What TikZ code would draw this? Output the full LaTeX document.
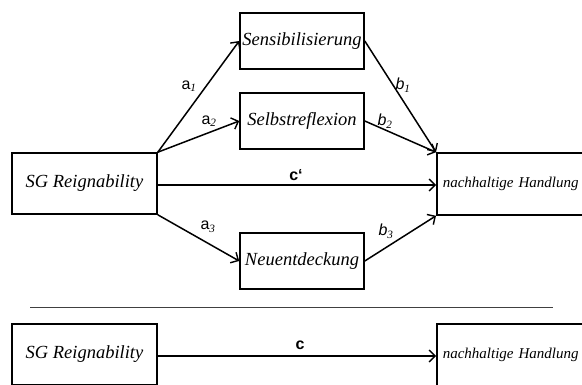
\documentclass[tikz,border=0pt]{standalone}
\usepackage{fontspec}
\setmainfont{Liberation Serif}
\setsansfont{Liberation Sans}
\usetikzlibrary{arrows.meta}
\tikzset{
  box/.style={draw, line width=1.6pt, inner sep=0pt, font=\itshape\fontsize{18.5}{22}\selectfont},
  outbox/.style={box, minimum height=62pt, text width=164pt, align=left, inner xsep=6pt, anchor=west,
        font=\itshape\fontsize{15}{18}\selectfont},
  path/.style={draw, line width=1.5pt, -{Straight Barb[length=6pt,width=12pt,line width=1.4pt]}},
  coef/.style={font=\sffamily\fontsize{16}{19}\selectfont, inner sep=0pt}
}
\begin{document}
\begin{tikzpicture}[x=1pt,y=-1pt]
  \useasboundingbox (0,0) rectangle (582,385);
  \clip (0,0) rectangle (582,385);
  % mediation model
  \node[box, minimum width=145pt, minimum height=61pt] (sg) at (84.5,183.5) {SG Reignability};
  \node[box, minimum width=124pt, minimum height=56pt] (sens) at (302,41) {Sensibilisierung};
  \node[box, minimum width=124pt, minimum height=56pt] (selb) at (302,121) {Selbstreflexion};
  \node[box, minimum width=124pt, minimum height=56pt] (neu) at (302,261) {Neuentdeckung};
  \node[outbox] (nach) at (436,184) {nachhaltige Handlung};

  \draw[path] (sg.north east) -- (sens.west);
  \draw[path] (sg.north east) -- (selb.west);
  \draw[path] (sg.south east) -- (neu.west);
  \draw[path] (sens.east) -- (nach.north west);
  \draw[path] (selb.east) -- (nach.north west);
  \draw[path] (neu.east) -- (nach.south west);
  \draw[path] (sg.east |- 0,185) coordinate (cs) -- (cs -| nach.west);

  \node[coef] (la1) at (189,86) {a$_{\mathit{1}}$};
  \node[coef] (la2) at (209,121) {a$_{\mathit{2}}$};
  \node[coef] (la3) at (208,227) {a$_{\mathit{3}}$};
  \node[coef] (lb1) at (403,85) {\itshape b$_{\mathit{1}}$};
  \node[coef] (lb2) at (385,121) {\itshape b$_{\mathit{2}}$};
  \node[coef] (lb3) at (386,231) {\itshape b$_{\mathit{3}}$};
  \node[coef] (lcs) at (296,175) {\bfseries c\textquoteleft};

  % separator
  \coordinate (sepl) at (30,308);
  \coordinate (sepr) at (553,308);
  \draw[line width=1pt, black!75] (sepl) -- (sepr);

  % total effect
  \node[box, minimum width=145pt, minimum height=61pt] (sgb) at (84.5,354.5) {SG Reignability};
  \node[outbox] (nachb) at (436,355) {nachhaltige Handlung};
  \draw[path] (sgb.east |- 0,356) coordinate (cb) -- (cb -| nachb.west);
  \node[coef] (lc) at (300,345) {\bfseries c};
\end{tikzpicture}
\end{document}
